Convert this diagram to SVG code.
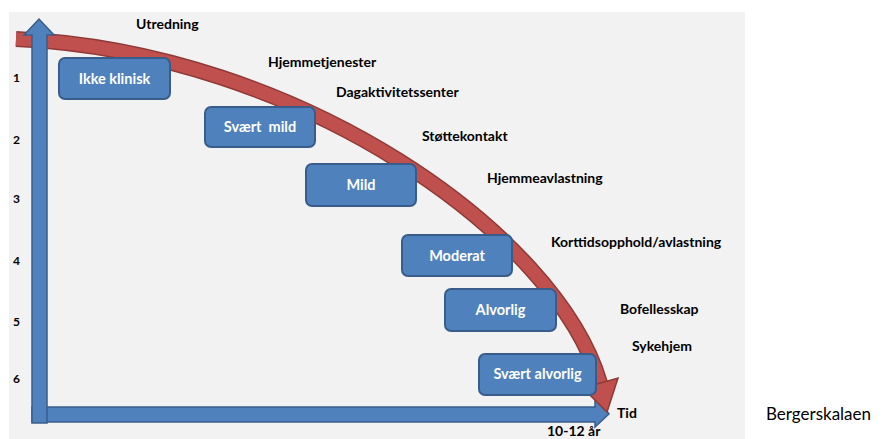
<svg xmlns="http://www.w3.org/2000/svg" width="889" height="439" viewBox="0 0 889 439">
<style>
.box rect{fill:#4f81bd;stroke:#385d8a;stroke-width:2}
.box text{font-family:Lato,"Liberation Sans",sans-serif;font-weight:bold;font-size:14.5px;fill:#fff;text-anchor:middle}
.lbl{font-family:Lato,"Liberation Sans",sans-serif;font-weight:bold;font-size:14px;fill:#000}
.num{font-family:Lato,"Liberation Sans",sans-serif;font-weight:bold;font-size:12px;fill:#000}
.axis{fill:#4f81bd;stroke:#385d8a;stroke-width:1.5}
</style>
<rect x="9" y="12" width="736" height="427" fill="#f2f2f2"/>
<g id="connectors">
<polygon class="axis" points="32,407 595,407 595,395 609,414 595,427 595,422 32,422"/>
<path d="M16,39 C300,52 557,235 600,383" fill="none" stroke="#8f3a37" stroke-width="16"/>
<path d="M16,39 C300,52 557,235 600,383" fill="none" stroke="#c0504d" stroke-width="13"/>
<polygon points="583,388 618,378 607,412" fill="#c0504d" stroke="#8f3a37" stroke-width="1.5"/>
<polygon class="axis" points="32,423 32,35 24,35 39,19 54,35 47,35 47,423"/>
</g>
<g id="n1" class="box"><rect x="59" y="58" width="111" height="41" rx="6"/><text x="114.5" y="84">Ikke klinisk</text></g>
<g id="n2" class="box"><rect x="205" y="107" width="110" height="40" rx="6"/><text x="260" y="132" style="white-space:pre">Svært  mild</text></g>
<g id="n3" class="box"><rect x="306" y="164" width="110" height="42" rx="6"/><text x="361" y="190">Mild</text></g>
<g id="n4" class="box"><rect x="402" y="235" width="110" height="41" rx="6"/><text x="457" y="261">Moderat</text></g>
<g id="n5" class="box"><rect x="445" y="289" width="111" height="42" rx="6"/><text x="500.5" y="315">Alvorlig</text></g>
<g id="n6" class="box"><rect x="479" y="354" width="117" height="41" rx="6"/><text x="537.5" y="379">Svært alvorlig</text></g>
<g id="labels">
<text class="lbl" x="136" y="29">Utredning</text>
<text class="lbl" x="268" y="67">Hjemmetjenester</text>
<text class="lbl" x="336" y="97">Dagaktivitetssenter</text>
<text class="lbl" x="422" y="141">Støttekontakt</text>
<text class="lbl" x="487" y="183">Hjemmeavlastning</text>
<text class="lbl" x="551" y="247">Korttidsopphold/avlastning</text>
<text class="lbl" x="620" y="314">Bofellesskap</text>
<text class="lbl" x="632" y="351">Sykehjem</text>
<text class="lbl" x="617" y="418">Tid</text>
<text class="lbl" x="547" y="436">10-12 år</text>
<text class="num" x="13" y="82">1</text>
<text class="num" x="13" y="144">2</text>
<text class="num" x="13" y="203">3</text>
<text class="num" x="13" y="265">4</text>
<text class="num" x="13" y="326">5</text>
<text class="num" x="13" y="383">6</text>
<text x="766" y="420" font-family="Lato,'Liberation Sans',sans-serif" font-size="17" fill="#000">Bergerskalaen</text>
</g>
</svg>
